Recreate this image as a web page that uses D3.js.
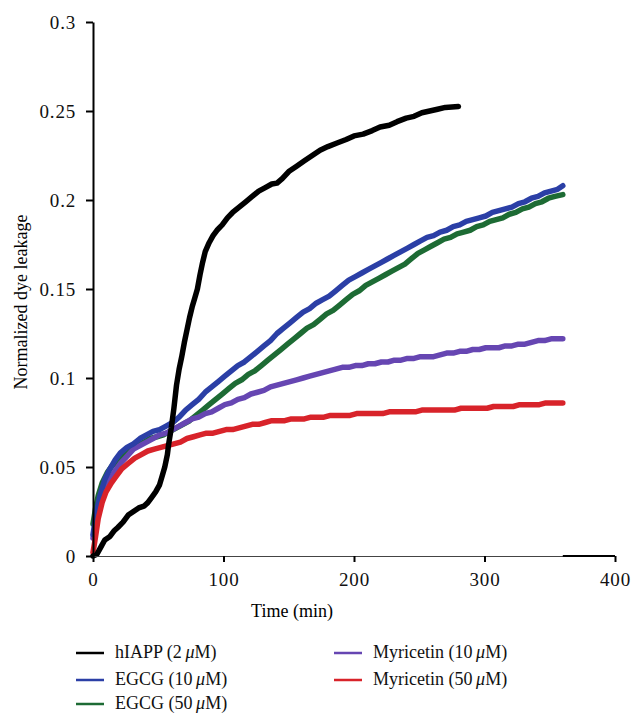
<!DOCTYPE html>
<meta charset="utf-8">
<style>
body { margin: 0; background: #fff; }
svg { font-family: "Liberation Serif", "Times New Roman", serif; }
.axis text { fill: #111; letter-spacing: 0.8px; }
.axis--y path, .axis--y line { stroke: #000; stroke-width: 2px; }
.axis--x path { stroke: #444; stroke-width: 1.2px; }
.axis--x line { stroke: #000; stroke-width: 2px; }
.line { fill: none; stroke-width: 5.5px; stroke-linejoin: round; stroke-linecap: round; }
.legend text { font-size: 18px; fill: #111; }
</style>
<svg width="632" height="714"></svg>
<script src="https://cdn.jsdelivr.net/npm/d3@7"></script>
<script>
// series names and colours
var names = ["hIAPP (2\u2009", "EGCG (10\u2009", "EGCG (50\u2009", "Myricetin (10\u2009", "Myricetin (50\u2009"];
var colors = ["#000000", "#2b3fa6", "#1d6b34", "#6646b2", "#d8232a"];
var xTicks = [0, 100, 200, 300, 400];
var yTicks = [0, 0.05, 0.1, 0.15, 0.2, 0.25, 0.3];

// [time (min), normalized leakage]
var hiapp = [[0,0],[3,0.001],[6,0.005],[9,0.009],[13,0.011],[16,0.014],[19,0.016],[23,0.019],[27,0.023],[31,0.025],[35,0.027],[39,0.028],[42,0.030],[45,0.033],[48,0.036],[51,0.040],[53,0.045],[55,0.050],[57,0.057],[58,0.063],[60,0.072],[62,0.083],[64,0.096],[66,0.105],[68,0.112],[70,0.120],[72,0.127],[74,0.134],[76,0.140],[78,0.145],[80,0.150],[82,0.158],[84,0.165],[86,0.171],[89,0.176],[92,0.180],[95,0.183],[99,0.186],[103,0.190],[107,0.193],[112,0.196],[117,0.199],[122,0.202],[127,0.205],[132,0.207],[137,0.209],[141,0.2095],[145,0.212],[150,0.216],[156,0.219],[162,0.222],[168,0.225],[174,0.228],[180,0.230],[187,0.232],[194,0.234],[200,0.236],[207,0.237],[214,0.239],[220,0.241],[227,0.242],[233,0.244],[240,0.246],[246,0.247],[252,0.249],[258,0.250],[264,0.251],[270,0.252],[280,0.2525]];

var egcg10 = [[0,0.012],[2,0.022],[5,0.033],[9,0.043],[13,0.049],[17,0.054],[21,0.058],[26,0.061],[31,0.063],[36,0.066],[41,0.068],[46,0.070],[51,0.071],[56,0.073],[61,0.075],[66,0.078],[71,0.082],[76,0.085],[81,0.088],[86,0.092],[91,0.095],[96,0.098],[101,0.101],[106,0.104],[111,0.107],[116,0.109],[121,0.112],[126,0.115],[131,0.118],[136,0.121],[141,0.125],[146,0.128],[151,0.131],[156,0.134],[161,0.137],[166,0.139],[171,0.142],[176,0.144],[181,0.146],[186,0.149],[191,0.152],[196,0.155],[201,0.157],[206,0.159],[211,0.161],[216,0.163],[221,0.165],[226,0.167],[231,0.169],[236,0.171],[241,0.173],[246,0.175],[251,0.177],[256,0.179],[261,0.180],[266,0.182],[271,0.183],[276,0.185],[281,0.186],[286,0.188],[291,0.189],[296,0.190],[301,0.191],[306,0.193],[311,0.194],[316,0.195],[321,0.196],[326,0.198],[331,0.199],[336,0.201],[341,0.202],[346,0.204],[351,0.205],[356,0.206],[360,0.208]];

var egcg50 = [[0,0.018],[2,0.027],[4,0.034],[7,0.041],[11,0.047],[15,0.051],[19,0.054],[24,0.057],[29,0.060],[34,0.062],[39,0.064],[44,0.066],[49,0.067],[54,0.068],[59,0.070],[64,0.072],[69,0.074],[74,0.076],[79,0.079],[84,0.082],[89,0.085],[94,0.088],[99,0.091],[104,0.094],[109,0.097],[114,0.099],[119,0.102],[124,0.104],[129,0.107],[134,0.110],[139,0.113],[144,0.116],[149,0.119],[154,0.122],[159,0.125],[164,0.128],[169,0.130],[174,0.133],[179,0.136],[184,0.138],[189,0.141],[194,0.144],[199,0.147],[204,0.149],[209,0.152],[214,0.154],[219,0.156],[224,0.158],[229,0.160],[234,0.162],[239,0.164],[244,0.167],[249,0.170],[254,0.172],[259,0.174],[264,0.176],[269,0.178],[274,0.179],[279,0.181],[284,0.182],[289,0.183],[294,0.185],[299,0.186],[304,0.188],[309,0.189],[314,0.190],[319,0.192],[324,0.193],[329,0.195],[334,0.196],[339,0.198],[344,0.199],[349,0.201],[354,0.202],[360,0.203]];

var myr10 = [[0,0.010],[2,0.018],[5,0.027],[9,0.036],[13,0.043],[17,0.048],[21,0.052],[26,0.056],[31,0.060],[36,0.062],[41,0.064],[46,0.066],[51,0.068],[56,0.069],[61,0.071],[66,0.073],[71,0.075],[76,0.077],[81,0.078],[86,0.080],[91,0.081],[96,0.083],[101,0.085],[106,0.086],[111,0.088],[116,0.089],[121,0.091],[126,0.092],[131,0.093],[136,0.095],[141,0.096],[146,0.097],[151,0.098],[156,0.099],[161,0.100],[166,0.101],[171,0.102],[176,0.103],[181,0.104],[186,0.105],[191,0.106],[196,0.106],[201,0.107],[206,0.107],[211,0.108],[216,0.108],[221,0.109],[226,0.109],[231,0.110],[236,0.110],[241,0.111],[246,0.111],[251,0.112],[256,0.112],[261,0.112],[266,0.113],[271,0.114],[276,0.114],[281,0.115],[286,0.115],[291,0.116],[296,0.116],[301,0.117],[306,0.117],[311,0.117],[316,0.118],[321,0.118],[326,0.119],[331,0.119],[336,0.120],[341,0.121],[346,0.121],[351,0.122],[360,0.122]];

var myr50 = [[0,0.002],[2,0.011],[4,0.021],[7,0.030],[10,0.036],[14,0.041],[18,0.045],[22,0.049],[27,0.052],[32,0.055],[37,0.057],[42,0.059],[47,0.060],[52,0.061],[57,0.062],[62,0.063],[67,0.064],[72,0.066],[77,0.067],[82,0.068],[87,0.069],[92,0.069],[97,0.070],[102,0.071],[107,0.071],[112,0.072],[117,0.073],[122,0.074],[127,0.074],[132,0.075],[137,0.076],[142,0.076],[147,0.076],[152,0.077],[157,0.077],[162,0.077],[167,0.078],[172,0.078],[177,0.078],[182,0.079],[187,0.079],[192,0.079],[197,0.079],[202,0.080],[207,0.080],[212,0.080],[217,0.080],[222,0.080],[227,0.081],[232,0.081],[237,0.081],[242,0.081],[247,0.081],[252,0.082],[257,0.082],[262,0.082],[267,0.082],[272,0.082],[277,0.082],[282,0.083],[287,0.083],[292,0.083],[297,0.083],[302,0.083],[307,0.084],[312,0.084],[317,0.084],[322,0.084],[327,0.085],[332,0.085],[337,0.085],[342,0.085],[347,0.086],[352,0.086],[360,0.086]];

var series = [hiapp, egcg10, egcg50, myr10, myr50];

var svg = d3.select("svg"),
    margin = {top: 22, right: 17, bottom: 158, left: 93},
    width = +svg.attr("width") - margin.left - margin.right,
    height = +svg.attr("height") - margin.top - margin.bottom;

var x = d3.scaleLinear().domain([0, 400]).range([0, width]),
    y = d3.scaleLinear().domain([0, 0.3]).range([height, 0]);

var g = svg.append("g")
    .attr("transform", "translate(" + margin.left + "," + margin.top + ")");

var line = d3.line()
    .x(function(d) { return x(d[0]); })
    .y(function(d) { return y(d[1]); });

// draw order: green, purple, blue, red, black
[2, 3, 1, 4, 0].forEach(function(i) {
  g.append("path")
    .datum(series[i])
    .attr("class", "line")
    .attr("stroke", colors[i])
    .attr("d", line);
});

g.append("g")
    .attr("class", "axis axis--x")
    .attr("transform", "translate(0," + height + ")")
    .call(d3.axisBottom(x).tickValues(xTicks).tickSize(6).tickSizeOuter(0).tickPadding(11));

// darker end piece of the x axis as in the figure
g.append("line")
    .attr("x1", x(360)).attr("x2", x(400))
    .attr("y1", height).attr("y2", height)
    .attr("stroke", "#000").attr("stroke-width", 2);

g.append("g")
    .attr("class", "axis axis--y")
    .call(d3.axisLeft(y).tickValues(yTicks).tickFormat(d3.format("")).tickSize(7).tickSizeOuter(0).tickPadding(10));

g.selectAll(".axis text").attr("font-size", 19).attr("font-family", "Liberation Serif, serif");

svg.append("text")
    .attr("x", 292)
    .attr("y", 617)
    .attr("text-anchor", "middle")
    .attr("font-size", 18)
    .text("Time (min)");

svg.append("text")
    .attr("transform", "rotate(-90)")
    .attr("x", -302)
    .attr("y", 27)
    .attr("text-anchor", "middle")
    .attr("font-size", 18)
    .text("Normalized dye leakage");

// legend: two columns
var legendPos = [[76, 653], [76, 680], [76, 704], [334, 653], [334, 680]];
var legend = svg.append("g").attr("class", "legend");
names.forEach(function(n, i) {
  var p = legendPos[i];
  legend.append("line")
    .attr("x1", p[0]).attr("x2", p[0] + 28)
    .attr("y1", p[1]).attr("y2", p[1])
    .attr("stroke", colors[i]).attr("stroke-width", 2.5);
  var t = legend.append("text")
    .attr("x", p[0] + 39)
    .attr("y", p[1] + 5)
    .attr("font-size", 18);
  t.append("tspan").text(n);
  t.append("tspan").attr("font-style", "italic").text("\u03bc");
  t.append("tspan").text("M)");
});
</script>
